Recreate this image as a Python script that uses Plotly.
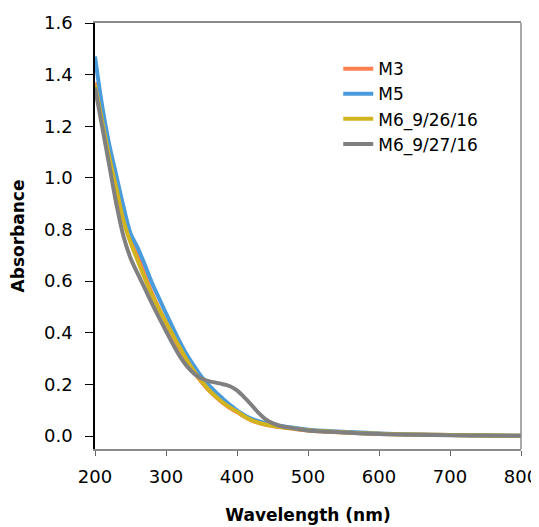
import plotly.graph_objects as go

# wavelength grid (nm) shared by all four spectra
wavelength = [200, 210, 220, 230, 240, 250, 260, 270, 280, 290, 300, 310, 320, 330, 340,
              350, 360, 370, 380, 390, 400, 410, 420, 430, 440, 450, 460, 480, 500,
              550, 600, 650, 700, 750, 800]

m3 = [1.37, 1.23, 1.09, 0.97, 0.85, 0.765, 0.70, 0.625, 0.555, 0.495, 0.44, 0.385, 0.335, 0.287, 0.245,
      0.21, 0.178, 0.152, 0.128, 0.109, 0.093, 0.076, 0.061, 0.051, 0.044, 0.039, 0.035, 0.028, 0.022,
      0.014, 0.009, 0.006, 0.004, 0.002, 0.001]

m5 = [1.47, 1.28, 1.13, 1.01, 0.89, 0.785, 0.73, 0.665, 0.595, 0.535, 0.475, 0.418, 0.362, 0.312, 0.27,
      0.23, 0.198, 0.17, 0.145, 0.121, 0.10, 0.082, 0.068, 0.058, 0.05, 0.044, 0.04, 0.032, 0.025,
      0.017, 0.01, 0.006, 0.004, 0.002, 0.001]

m6_0926 = [1.36, 1.22, 1.08, 0.96, 0.835, 0.75, 0.68, 0.612, 0.548, 0.492, 0.44, 0.39, 0.34, 0.292, 0.25,
           0.213, 0.18, 0.154, 0.13, 0.111, 0.095, 0.077, 0.062, 0.052, 0.045, 0.04, 0.036, 0.029, 0.023,
           0.015, 0.009, 0.006, 0.004, 0.002, 0.001]

m6_0927 = [1.35, 1.20, 1.05, 0.90, 0.775, 0.69, 0.63, 0.573, 0.515, 0.46, 0.407, 0.355, 0.307, 0.269, 0.241,
           0.223, 0.213, 0.207, 0.201, 0.193, 0.177, 0.151, 0.122, 0.091, 0.066, 0.05, 0.04, 0.03, 0.022,
           0.014, 0.008, 0.005, 0.003, 0.002, 0.001]

series = [
    ("M3", m3, "#FF7F4F"),
    ("M5", m5, "#4A9BDC"),
    ("M6_9/26/16", m6_0926, "#D2B41E"),
    ("M6_9/27/16", m6_0927, "#808080"),
]

fig = go.Figure()
for name, vals, color in series:
    fig.add_trace(go.Scatter(
        x=wavelength, y=vals, mode="lines", name=name,
        line=dict(color=color, width=4, shape="spline", smoothing=1.0)
    ))

# page body adds an 8px offset, margins compensate for it
fig.update_layout(
    width=539, height=527,
    margin=dict(l=87, r=26, t=15, b=86),
    plot_bgcolor="white", paper_bgcolor="white",
    font=dict(family="DejaVu Sans", size=18, color="black"),
    showlegend=True,
    legend=dict(
        x=0.571, y=0.934, xanchor="left", yanchor="top",
        bgcolor="rgba(0,0,0,0)", font=dict(size=17),
        tracegroupgap=0, itemwidth=30
    ),
)

fig.update_xaxes(
    range=[200, 800], tickvals=[200, 300, 400, 500, 600, 700, 800],
    showgrid=False, zeroline=False, automargin=False,
    showline=True, linecolor="#8c8c8c", linewidth=1.5, mirror=True,
    ticks="outside", ticklen=5, tickcolor="#666666", ticklabelstandoff=6,
    title=dict(text="<b>Wavelength (nm)</b>", standoff=23, font=dict(size=17))
)
fig.update_yaxes(
    range=[-0.05, 1.6], tickvals=[0, 0.2, 0.4, 0.6, 0.8, 1.0, 1.2, 1.4, 1.6],
    tickformat=".1f",
    showgrid=False, zeroline=False, automargin=False,
    showline=True, linecolor="black", linewidth=1.5, mirror=False,
    ticks="outside", ticklen=8, tickcolor="black", ticklabelstandoff=9,
    title=dict(text="<b>Absorbance</b>", standoff=16, font=dict(size=17))
)

# right edge of the frame is gray like the top
fig.add_shape(type="line", xref="paper", yref="paper", x0=1, x1=1, y0=0, y1=1,
              line=dict(color="#8c8c8c", width=1.5), layer="above")

fig.write_html("out.html")
